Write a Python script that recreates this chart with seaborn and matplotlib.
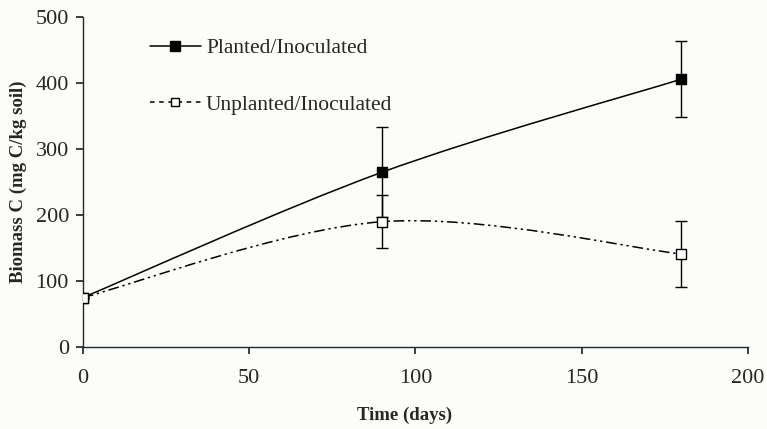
import numpy as np
import pandas as pd
import seaborn as sns
import matplotlib
matplotlib.use("Agg")
import matplotlib.pyplot as plt
from matplotlib.path import Path
from matplotlib.patches import PathPatch
from matplotlib.lines import Line2D

# data
days = [0, 90, 180]
planted = [75, 265, 406]
planted_err = [0, 68, 58]
unplanted = [75, 190, 141]
unplanted_err = [0, 40, 50]
series_names = ["Planted/Inoculated", "Unplanted/Inoculated"]

sns.set_theme(style="ticks")
plt.rcParams['font.family'] = ['Liberation Serif', 'DejaVu Serif']
plt.rcParams['axes.linewidth'] = 1.0

BG = "#fcfcf8"
fig = plt.figure(figsize=(7.67, 4.29), dpi=100, facecolor=BG)
ax = fig.add_axes([0.108, 0.191, 0.867, 0.769])
ax.set_facecolor(BG)


def smooth_path(xs, ys):
    # excel-like smoothed line: cubic bezier through the points
    pts = np.column_stack([xs, ys]).astype(float)
    n = len(pts)
    verts = [pts[0]]
    codes = [Path.MOVETO]
    for i in range(n - 1):
        p_prev = pts[i - 1] if i > 0 else pts[i]
        p_next = pts[i + 2] if i + 2 < n else pts[i + 1]
        c1 = pts[i] + (pts[i + 1] - p_prev) / 6.0
        c2 = pts[i + 1] - (p_next - pts[i]) / 6.0
        verts += [c1, c2, pts[i + 1]]
        codes += [Path.CURVE4] * 3
    return Path(verts, codes)


dashdotdot = (0, (7, 2.5, 1.5, 2.5, 1.5, 2.5))
ax.add_patch(PathPatch(smooth_path(days, planted), fill=False, edgecolor="black",
                       linewidth=1.1, zorder=2))
ax.add_patch(PathPatch(smooth_path(days, unplanted), fill=False, edgecolor="black",
                       linewidth=1.1, linestyle=dashdotdot, zorder=2))

ax.errorbar(days, planted, yerr=planted_err, fmt='none', ecolor="black",
            elinewidth=1, capsize=4, capthick=1, zorder=3)
ax.errorbar(days, unplanted, yerr=unplanted_err, fmt='none', ecolor="black",
            elinewidth=1, capsize=4, capthick=1, zorder=3)

df = pd.DataFrame({
    "day": days * 2,
    "biomass": planted + unplanted,
    "series": [series_names[0]] * 3 + [series_names[1]] * 3,
})
sns.scatterplot(data=df[df.series == series_names[0]], x="day", y="biomass",
                marker="s", s=60, color="black", edgecolor="black", linewidth=1,
                ax=ax, zorder=4, legend=False)
sns.scatterplot(data=df[df.series == series_names[1]], x="day", y="biomass",
                marker="s", s=60, color="white", edgecolor="black", linewidth=1,
                ax=ax, zorder=5, legend=False)

ax.set_xlim(0, 200)
ax.set_ylim(0, 500)
ax.set_xticks([0, 50, 100, 150, 200])
ax.set_yticks([0, 100, 200, 300, 400, 500])
ax.tick_params(axis='x', labelsize=16, length=5, pad=11, direction='out')
ax.tick_params(axis='y', labelsize=16, length=5, pad=5, direction='out')
sns.despine(ax=ax)
ax.spines['bottom'].set_color("#1c2a3a")

ax.set_xlabel("Time (days)", fontsize=13.5, fontweight="bold")
ax.xaxis.set_label_coords(0.484, -0.18)
ax.set_ylabel("Biomass C (mg C/kg soil)", fontsize=13.5, fontweight="bold", labelpad=6)

handles = [
    Line2D([0], [0], color="black", lw=1.1, marker="s", markersize=7,
           markerfacecolor="black", markeredgecolor="black"),
    Line2D([0], [0], color="black", lw=1.1, linestyle=(0, (3, 3)), marker="s",
           markersize=6, markerfacecolor="white", markeredgecolor="black"),
]
ax.legend(handles, series_names, loc="upper left", bbox_to_anchor=(0.072, 0.995),
          frameon=False, fontsize=15.5, labelspacing=1.7, handlelength=2.35,
          handletextpad=0.25)

fig.savefig("out.png", dpi=100, facecolor=BG)
